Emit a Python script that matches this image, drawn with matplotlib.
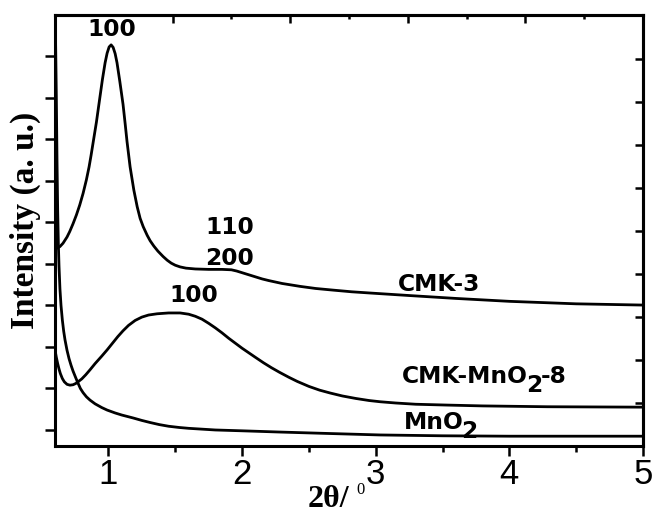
import numpy as np
import matplotlib
matplotlib.use('Agg')
import matplotlib.pyplot as plt

plt.rcParams['font.family'] = ['Liberation Sans', 'DejaVu Sans']

# small-angle XRD patterns, intensity in arbitrary offset units
two_theta_cmk3 = [0.60, 0.615, 0.637, 0.66, 0.69, 0.71, 0.735, 0.76, 0.785, 0.81,
                  0.835, 0.855, 0.87, 0.885, 0.91, 0.93, 0.955, 0.975, 0.99, 1.005,
                  1.02, 1.035, 1.05, 1.064, 1.085, 1.109, 1.125, 1.139, 1.162, 1.19,
                  1.215, 1.237, 1.26, 1.29, 1.312, 1.34, 1.37, 1.409, 1.44, 1.47,
                  1.5, 1.536, 1.58, 1.65, 1.75, 1.85, 1.92, 1.96, 2.0, 2.05,
                  2.1, 2.15, 2.2, 2.3, 2.435, 2.55, 2.682, 2.82, 2.96, 3.25,
                  3.6, 4.0, 4.5, 5.0]
int_cmk3 = [4.38, 4.38, 4.42, 4.50, 4.65, 4.78, 4.97, 5.18, 5.42, 5.70,
            6.03, 6.34, 6.62, 6.92, 7.42, 7.88, 8.45, 8.85, 9.08, 9.23,
            9.28, 9.22, 9.07, 8.85, 8.4, 7.85, 7.38, 6.95, 6.34, 5.78,
            5.38, 5.1, 4.9, 4.69, 4.56, 4.43, 4.31, 4.18, 4.09, 4.02,
            3.97, 3.93, 3.90, 3.88, 3.87, 3.87, 3.86, 3.83, 3.79, 3.74,
            3.69, 3.64, 3.60, 3.53, 3.46, 3.41, 3.37, 3.33, 3.30, 3.24,
            3.17, 3.10, 3.04, 3.01]

two_theta_cmk_mno2 = [0.60, 0.61, 0.62, 0.63, 0.64, 0.655, 0.67, 0.69, 0.712, 0.735,
                      0.755, 0.772, 0.8, 0.83, 0.862, 0.9, 0.95, 0.99, 1.03, 1.07,
                      1.109, 1.15, 1.2, 1.25, 1.3, 1.364, 1.45, 1.536, 1.6, 1.65,
                      1.7, 1.75, 1.8, 1.85, 1.9, 1.95, 2.0, 2.05, 2.1, 2.16,
                      2.22, 2.28, 2.35, 2.413, 2.5, 2.58, 2.66, 2.75, 2.85, 2.95,
                      3.034, 3.15, 3.3, 3.536, 3.8, 4.285, 5.0]
int_cmk_mno2 = [1.93, 1.75, 1.6, 1.47, 1.36, 1.24, 1.16, 1.1, 1.08, 1.09,
                1.12, 1.16, 1.23, 1.33, 1.45, 1.60, 1.78, 1.93, 2.09, 2.25,
                2.39, 2.52, 2.64, 2.72, 2.77, 2.80, 2.82, 2.82, 2.79, 2.74,
                2.67, 2.57, 2.46, 2.34, 2.21, 2.09, 1.97, 1.86, 1.75, 1.62,
                1.50, 1.39, 1.27, 1.17, 1.05, 0.96, 0.89, 0.82, 0.76, 0.71,
                0.68, 0.65, 0.62, 0.60, 0.58, 0.56, 0.55]

two_theta_mno2 = [0.60, 0.605, 0.61, 0.615, 0.62, 0.625, 0.63, 0.637, 0.645, 0.655,
                  0.665, 0.675, 0.69, 0.705, 0.72, 0.735, 0.755, 0.772, 0.79, 0.81,
                  0.835, 0.862, 0.9, 0.95, 0.99, 1.05, 1.1, 1.184, 1.25, 1.312,
                  1.38, 1.45, 1.53, 1.6, 1.7, 1.8, 2.0, 2.285, 2.6, 3.034,
                  3.5, 4.0, 5.0]
int_mno2 = [10.5, 9.2, 8.0, 6.5, 5.3, 4.5, 3.95, 3.4, 3.0, 2.65,
            2.38, 2.17, 1.92, 1.72, 1.56, 1.42, 1.26, 1.13, 1.0, 0.9,
            0.8, 0.72, 0.63, 0.54, 0.48, 0.41, 0.36, 0.29, 0.23, 0.18,
            0.13, 0.09, 0.06, 0.04, 0.02, 0.0, -0.02, -0.05, -0.08, -0.12,
            -0.14, -0.15, -0.15]

fig = plt.figure(figsize=(6.52, 5.14), dpi=100)
ax = fig.add_axes([55 / 652, 68 / 514, 588 / 652, 431 / 514])

for x, y in [(two_theta_cmk3, int_cmk3),
             (two_theta_cmk_mno2, int_cmk_mno2),
             (two_theta_mno2, int_mno2)]:
    ax.plot(x, y, color='black', lw=2.0, solid_joinstyle='round')

ax.set_xlim(0.6, 5.0)
ax.set_ylim(-0.386, 10.0)
ax.set_xticks([1, 2, 3, 4, 5])
ax.set_xticks([1.5, 2.5, 3.5, 4.5], minor=True)
ax.set_yticks(range(10))
ax.set_yticklabels([])
ax.tick_params(axis='x', which='major', direction='out', length=7, width=1.8,
               labelsize=25, pad=2)
ax.tick_params(axis='x', which='minor', direction='out', length=4.5, width=1.8)
ax.tick_params(axis='y', direction='out', length=7, width=1.8)
for s in ax.spines.values():
    s.set_linewidth(2.2)

# top and right frame carry their own, independent tick spacing
top = ax.secondary_xaxis('top', functions=(lambda x: (x - 0.6) / 0.44,
                                           lambda k: 0.6 + 0.44 * k))
top.set_xticks([2, 4, 6, 8])
top.set_xticks([3, 5, 7, 9], minor=True)
top.tick_params(which='major', direction='in', length=6, width=1.8, labeltop=False)
top.tick_params(which='minor', direction='in', length=3, width=1.8)

right = ax.secondary_yaxis('right', functions=(lambda y: (16 + 41.5 * y) / 43,
                                               lambda r: (43 * r - 16) / 41.5))
right.set_yticks(range(1, 10))
right.tick_params(direction='in', length=6, width=1.8, labelright=False)
for sec in (top, right):
    for s in sec.spines.values():
        s.set_linewidth(2.2)

ann = dict(family='DejaVu Sans', weight='bold', fontsize=16.8)
ax.text(1.027, 9.64, '100', ha='center', va='center', **ann)
ax.text(1.911, 4.87, '110', ha='center', va='center', **ann)
ax.text(1.903, 4.14, '200', ha='center', va='center', **ann)
ax.text(1.641, 3.25, '100', ha='center', va='center', **ann)
ax.text(3.169, 3.35, 'CMK-3', ha='left', va='baseline', **ann)


def chained(x, y, parts):
    # parts: (text, vertical shift in points relative to the baseline)
    t = ax.text(x, y, parts[0][0], ha='left', va='bottom', **ann)
    prev_shift = parts[0][1]
    for s, shift in parts[1:]:
        t = ax.annotate(s, xy=(1, 0), xycoords=t,
                        xytext=(-1.5, shift - prev_shift),
                        textcoords='offset points', ha='left', va='bottom', **ann)
        prev_shift = shift


chained(3.199, 1.02, [('CMK-MnO', 0), ('2', -6.5), ('-8', 0)])
chained(3.207, -0.09, [('MnO', 0), ('2', -6.5)])

fig.text(25 / 652, 1 - 220 / 514, 'Intensity (a. u.)', rotation=90,
         ha='center', va='center', family=['Liberation Serif', 'DejaVu Serif'],
         weight='bold', fontsize=24)
fig.text(308 / 652, 0.0, '2θ/', ha='left', va='bottom',
         family=['Liberation Serif', 'DejaVu Serif'], weight='bold', fontsize=23)
fig.text(356 / 652, 1 - 482 / 514, '0', ha='left', va='top',
         family=['Liberation Serif', 'DejaVu Serif'], fontsize=12)

fig.savefig('out.png', dpi=100)
